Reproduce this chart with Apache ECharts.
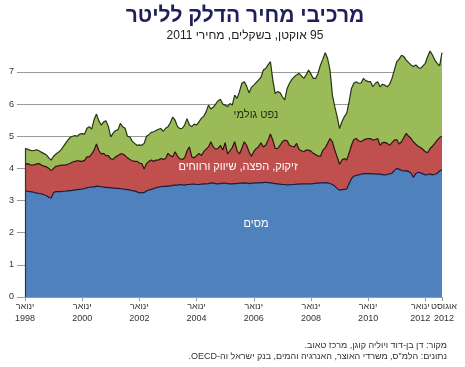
<!DOCTYPE html>
<html>
<head>
<meta charset="utf-8">
<script src="https://cdn.jsdelivr.net/npm/echarts@6/dist/echarts.min.js"></script>
<style>
html,body{margin:0;padding:0;background:#fff;}
#chart{width:465px;height:367px;}
</style>
</head>
<body>
<div id="chart" dir="rtl"></div>
<script>
// Monthly, Jan 1998 - Aug 2012 (NIS per litre, 2011 prices)
// Level of the top of each band
const totalPrice = [
  4.62,4.60,4.57,4.55,4.56,4.58,4.54,4.50,4.46,4.42,4.33,4.26,
  4.38,4.45,4.50,4.57,4.67,4.78,4.88,4.97,5.00,5.02,5.00,5.07,
  5.08,5.07,5.25,5.30,5.22,5.52,5.69,5.48,5.35,5.45,5.48,5.30,
  4.98,5.10,5.18,5.20,5.40,5.30,5.25,5.00,4.98,4.85,4.78,4.72,
  4.73,4.72,4.78,5.00,5.05,5.12,5.14,5.18,5.22,5.24,5.15,5.25,
  5.30,5.42,5.60,5.50,5.30,5.24,5.25,5.35,5.55,5.35,5.30,5.38,
  5.35,5.45,5.56,5.62,5.76,5.97,5.85,5.90,6.00,6.10,6.15,6.00,
  5.97,5.92,6.02,5.97,6.28,6.18,6.39,6.65,6.70,6.56,6.35,6.52,
  6.59,6.67,6.75,6.83,7.06,7.11,7.22,7.32,6.75,6.33,6.39,6.36,
  6.23,6.13,6.49,6.65,6.77,6.85,6.91,6.96,6.88,6.80,6.91,7.06,
  6.94,6.80,6.80,6.96,7.22,7.40,7.60,7.42,7.06,6.28,5.92,5.61,
  5.24,5.45,5.61,5.71,6.07,6.49,6.65,6.70,6.65,6.65,6.80,6.73,
  6.70,6.70,6.54,6.65,6.70,6.54,6.62,6.59,6.54,6.62,6.80,7.06,
  7.32,7.40,7.52,7.48,7.37,7.29,7.22,7.17,7.22,7.14,7.11,7.19,
  7.27,7.48,7.65,7.53,7.37,7.27,7.19,7.60
];
const taxPlusMarginLevel = [
  4.12,4.15,4.12,4.10,4.12,4.14,4.15,4.10,4.07,4.05,4.00,3.93,
  4.00,4.07,4.08,4.10,4.10,4.11,4.13,4.16,4.20,4.22,4.24,4.23,
  4.22,4.25,4.36,4.36,4.45,4.57,4.76,4.55,4.45,4.47,4.40,4.40,
  4.30,4.28,4.36,4.40,4.45,4.45,4.40,4.33,4.28,4.24,4.22,4.22,
  4.17,4.15,3.98,4.15,4.22,4.26,4.22,4.26,4.26,4.31,4.28,4.31,
  4.47,4.40,4.36,4.52,4.38,4.30,4.28,4.33,4.55,4.67,4.36,4.33,
  4.40,4.47,4.40,4.52,4.60,4.67,4.83,4.67,4.60,4.62,4.72,4.57,
  4.80,4.45,4.55,4.65,4.83,4.55,4.45,4.62,4.83,4.72,4.52,4.38,
  4.52,4.62,4.67,4.80,4.67,4.72,4.88,5.07,4.88,4.62,4.62,4.72,
  4.83,4.88,4.86,4.72,4.69,4.67,4.78,4.59,4.55,4.52,4.57,4.57,
  4.54,4.47,4.43,4.38,4.38,4.57,4.64,4.78,4.93,4.83,4.57,4.36,
  4.13,4.26,4.31,4.26,4.47,4.72,4.90,4.93,4.86,4.83,4.88,4.91,
  4.93,4.93,4.88,4.90,4.93,4.72,4.80,4.81,4.78,4.72,4.80,4.88,
  4.90,4.76,4.83,4.96,5.09,5.00,4.93,4.83,4.75,4.69,4.65,4.59,
  4.52,4.49,4.62,4.69,4.78,4.88,4.96,5.00
];
const taxLevel = [
  3.30,3.29,3.28,3.27,3.25,3.23,3.22,3.21,3.18,3.15,3.10,3.08,
  3.25,3.28,3.28,3.28,3.29,3.29,3.30,3.31,3.32,3.33,3.34,3.35,
  3.36,3.37,3.40,3.41,3.43,3.42,3.45,3.44,3.43,3.42,3.41,3.40,
  3.40,3.39,3.38,3.38,3.37,3.36,3.35,3.34,3.33,3.31,3.30,3.27,
  3.24,3.25,3.25,3.30,3.33,3.35,3.37,3.40,3.42,3.43,3.44,3.44,
  3.45,3.46,3.47,3.48,3.48,3.50,3.49,3.48,3.50,3.50,3.51,3.51,
  3.50,3.50,3.51,3.52,3.52,3.53,3.55,3.54,3.53,3.52,3.53,3.54,
  3.54,3.53,3.52,3.52,3.53,3.53,3.54,3.54,3.55,3.54,3.53,3.54,
  3.54,3.55,3.55,3.56,3.56,3.57,3.56,3.55,3.54,3.53,3.52,3.51,
  3.50,3.50,3.49,3.49,3.50,3.50,3.51,3.51,3.52,3.52,3.52,3.52,
  3.52,3.53,3.54,3.54,3.55,3.55,3.56,3.55,3.53,3.50,3.45,3.38,
  3.32,3.34,3.35,3.36,3.52,3.68,3.76,3.78,3.80,3.82,3.84,3.84,
  3.84,3.84,3.83,3.83,3.82,3.82,3.81,3.80,3.81,3.83,3.85,3.93,
  4.00,3.97,3.94,3.92,3.93,3.90,3.86,3.72,3.84,3.88,3.86,3.83,
  3.80,3.81,3.83,3.80,3.82,3.85,3.92,3.96
];

const seriesNames = ['נפט גולמי', 'זיקוק, הפצה, שיווק ורווחים', 'מסים'];
const tickMonths = ['1998-01','2000-01','2002-01','2004-01','2006-01','2008-01','2010-01','2012-01','2012-08'];
const tickLabels = ['ינואר\n1998','ינואר\n2000','ינואר\n2002','ינואר\n2004','ינואר\n2006','ינואר\n2008','ינואר\n2010','ינואר\n2012','אוגוסט\n2012'];
const yTicks = [0,1,2,3,4,5,6,7];

const months = [];
for (let y = 1998; y <= 2012; y++) {
  for (let m = 1; m <= 12; m++) {
    if (y === 2012 && m > 8) break;
    months.push(y + '-' + (m < 10 ? '0' + m : m));
  }
}

const FONT = '"Liberation Sans", Arial, sans-serif';
const chart = echarts.init(document.getElementById('chart'), null, {renderer: 'canvas'});

function tickIn(list) {
  return function (idx) { return list.indexOf(months[idx]) >= 0; };
}
function labelOf(v) {
  const i = tickMonths.indexOf(v);
  return i < 0 ? '' : tickLabels[i];
}

// three label groups so the last two close labels can be nudged apart
const groupMain = tickMonths.slice(0, 7);
const groupJan12 = [tickMonths[7]];
const groupAug12 = [tickMonths[8]];

function labelAxis(group, padding, withTicks) {
  return {
    type: 'category', data: months, boundaryGap: false, gridIndex: 0, position: 'bottom',
    axisLine: {show: withTicks, lineStyle: {color: '#9a9a9a', width: 1}},
    axisTick: {show: withTicks, interval: tickIn(tickMonths), length: 4, lineStyle: {color: '#9a9a9a'}},
    axisLabel: {
      interval: tickIn(group), showMinLabel: null, showMaxLabel: null, hideOverlap: false,
      margin: 4, color: '#333', fontSize: 9, lineHeight: 12, fontFamily: FONT,
      padding: padding, formatter: labelOf
    },
    splitLine: {show: false}
  };
}

function areaSeries(name, data, fill, edge, z) {
  return {
    name: name, type: 'line', data: data, symbol: 'none', clip: false,
    xAxisIndex: 0, z: z, animation: false, silent: true,
    lineStyle: {color: edge, width: 1.2},
    areaStyle: {color: fill, opacity: 1, origin: 0}
  };
}

const green = areaSeries(seriesNames[0], totalPrice, '#9bbb59', '#263414', 2);
green.markLine = {
  silent: true, symbol: 'none', label: {show: false}, animation: false,
  lineStyle: {color: '#333', width: 1.2, type: 'solid'},
  data: [
    [{coord: [months[0], 0]}, {coord: [months[0], totalPrice[0]]}],
    [{coord: [months[months.length - 1], 0]}, {coord: [months[months.length - 1], totalPrice[totalPrice.length - 1]]}]
  ]
};

chart.setOption({
  animation: false,
  textStyle: {fontFamily: FONT},
  grid: {left: 25, right: 23, top: 72, bottom: 70, containLabel: false},
  xAxis: [
    labelAxis(groupMain, [0, 0, 0, 0], true),
    labelAxis(groupJan12, [0, 10, 0, 0], false),
    labelAxis(groupAug12, [0, 0, 0, 4], false)
  ],
  yAxis: {
    type: 'value', min: 0, max: 7, interval: 1,
    axisLine: {show: false},
    axisTick: {show: true, length: 8, lineStyle: {color: '#9a9a9a'}},
    axisLabel: {color: '#333', fontSize: 9, margin: 11, fontFamily: FONT,
      formatter: function (v) { return yTicks.indexOf(v) >= 0 ? String(v) : ''; }},
    splitLine: {show: true, lineStyle: {color: '#9a9a9a', width: 1}}
  },
  series: [
    green,
    areaSeries(seriesNames[1], taxPlusMarginLevel, '#c0504d', '#2e1414', 3),
    areaSeries(seriesNames[2], taxLevel, '#4f81bd', '#1c1c40', 4)
  ],
  graphic: [
    {type: 'text', x: 245, y: 16, z: 10, style: {text: 'מרכיבי מחיר הדלק לליטר', fill: '#1f1f5c', font: 'bold 21px ' + FONT, textAlign: 'center', textVerticalAlign: 'middle'}},
    {type: 'text', x: 245, y: 36, z: 10, style: {text: '95 אוקטן, בשקלים, מחירי 2011', fill: '#222', font: '12px ' + FONT, textAlign: 'center', textVerticalAlign: 'middle'}},
    {type: 'text', x: 256, y: 115, z: 10, style: {text: seriesNames[0], fill: '#1f2a10', font: '11px ' + FONT, textAlign: 'center', textVerticalAlign: 'middle'}},
    {type: 'text', x: 238, y: 167, z: 10, style: {text: seriesNames[1], fill: '#ffffff', font: '11px ' + FONT, textAlign: 'center', textVerticalAlign: 'middle'}},
    {type: 'text', x: 256, y: 224, z: 10, style: {text: seriesNames[2], fill: '#ffffff', font: '11px ' + FONT, textAlign: 'center', textVerticalAlign: 'middle'}},
    {type: 'text', x: 447, y: 346, z: 10, style: {text: 'מקור: דן בן-דוד ויוליה קוגן, מרכז טאוב.', fill: '#333', font: '9px ' + FONT, textAlign: 'right', textVerticalAlign: 'middle'}},
    {type: 'text', x: 447, y: 357, z: 10, style: {text: 'נתונים: הלמ"ס, משרדי האוצר, האנרגיה והמים, בנק ישראל וה-OECD.', fill: '#333', font: '9px ' + FONT, textAlign: 'right', textVerticalAlign: 'middle'}}
  ]
});
</script>
</body>
</html>
